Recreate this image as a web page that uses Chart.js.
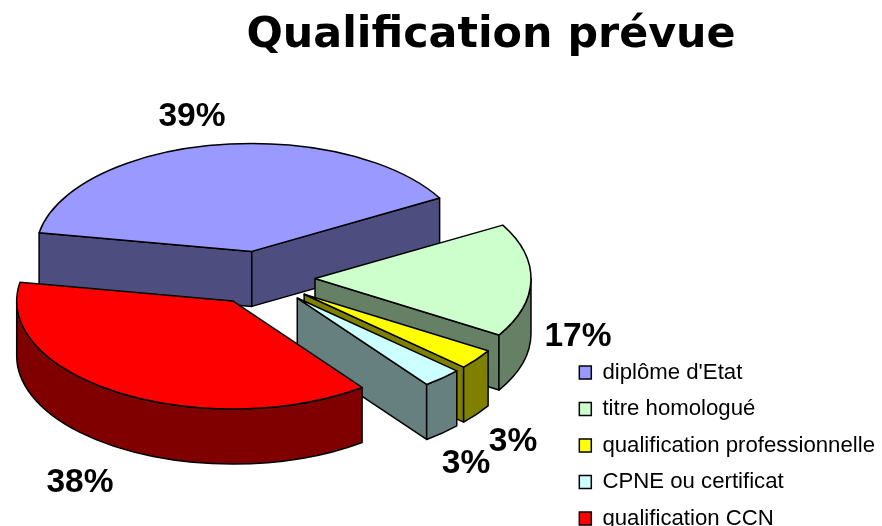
<!DOCTYPE html>
<html>
<head>
<meta charset="utf-8">
<title>Qualification prévue</title>
<script src="https://cdn.jsdelivr.net/npm/chart.js@4/dist/chart.umd.min.js"></script>
<style>
  html, body { margin: 0; padding: 0; background: #fff; }
  canvas { display: block; }
</style>
</head>
<body>
<canvas id="pie" width="882" height="526"></canvas>
<script>
var chartTitle = 'Qualification prévue'
var categories = ['diplôme d\'Etat', 'titre homologué', 'qualification professionnelle', 'CPNE ou certificat', 'qualification CCN']
var shares = [39, 17, 3, 3, 38]
var topColors = ['#9999ff', '#ccffcc', '#ffff00', '#ccffff', '#ff0000']
var wallColors = ['#4d4d80', '#668066', '#808000', '#668080', '#800000']

// 3d look: where the flattened pie sits on the page
var pieX = 261, pieY = 278
var squash = 0.5, depth = 55, explode = 54
// percent labels sit by hand like in the original
var labelSpots = [[192, 117], [578, 337], [513, 442], [466, 464], [80, 483]]

var pie3d = {
    id: 'pie3d',
    beforeDatasetsDraw: function (chart) {
        var ctx = chart.ctx
        var arcs = chart.getDatasetMeta(0).data
        // back to front, every slice covers the ones before it
        arcs.forEach(function (arc, i) {
            var start = arc.startAngle, end = arc.endAngle
            var r = arc.outerRadius
            var mid = (start + end) / 2
            var ox = pieX + Math.cos(mid) * explode
            var oy = pieY + Math.sin(mid) * explode * squash
            var ptX = function (a) { return ox + Math.cos(a) * r }
            var ptY = function (a) { return oy + Math.sin(a) * r * squash }

            ctx.save()
            ctx.lineWidth = 1.5
            ctx.strokeStyle = '#000'
            ctx.lineJoin = 'round'
            ctx.fillStyle = wallColors[i]

            // cut faces, only the ones looking at us
            ;[[start, start - Math.PI / 2], [end, end + Math.PI / 2]].forEach(function (f) {
                if (Math.sin(f[1]) <= 0) return
                ctx.beginPath()
                ctx.moveTo(ox, oy)
                ctx.lineTo(ptX(f[0]), ptY(f[0]))
                ctx.lineTo(ptX(f[0]), ptY(f[0]) + depth)
                ctx.lineTo(ox, oy + depth)
                ctx.closePath()
                ctx.fill()
                ctx.stroke()
            })

            // round wall, front half only
            var a0 = Math.max(start, 0), a1 = Math.min(end, Math.PI)
            if (a1 > a0) {
                ctx.beginPath()
                ctx.ellipse(ox, oy, r, r * squash, 0, a0, a1)
                ctx.lineTo(ptX(a1), ptY(a1) + depth)
                ctx.ellipse(ox, oy + depth, r, r * squash, 0, a1, a0, true)
                ctx.closePath()
                ctx.fill()
                ctx.stroke()
            }
            ctx.restore()

            // top face comes from chart.js itself
            ctx.save()
            ctx.translate(ox, oy)
            ctx.scale(1, squash)
            ctx.translate(-arc.x, -arc.y)
            arc.draw(ctx)
            ctx.restore()

            ctx.save()
            ctx.lineWidth = 1.5
            ctx.strokeStyle = '#000'
            ctx.lineJoin = 'round'
            ctx.beginPath()
            ctx.moveTo(ox, oy)
            ctx.ellipse(ox, oy, r, r * squash, 0, start, end)
            ctx.closePath()
            ctx.stroke()
            ctx.restore()
        })
        return false
    },
    afterDraw: function (chart) {
        var ctx = chart.ctx
        ctx.save()
        ctx.font = 'bold 33.5px "Liberation Sans", Arial, sans-serif'
        ctx.fillStyle = '#000'
        ctx.textAlign = 'center'
        ctx.textBaseline = 'middle'
        shares.forEach(function (v, i) {
            ctx.fillText(v + '%', labelSpots[i][0], labelSpots[i][1])
        })
        ctx.restore()
    }
}

var ctx = document.getElementById('pie').getContext('2d')
var myPie = new Chart(ctx, {
    type: 'pie',
    plugins: [pie3d],
    data: {
        labels: categories,
        datasets: [{
            data: shares,
            backgroundColor: topColors,
            borderWidth: 0
        }]
    },
    options: {
        responsive: false,
        animation: false,
        rotation: -80,
        radius: 216,
        layout: { padding: { left: 97, right: -3, top: 10, bottom: -18 } },
        plugins: {
            tooltip: { enabled: false },
            title: {
                display: true,
                text: chartTitle,
                color: '#000',
                padding: 0,
                font: { family: '"DejaVu Sans", Verdana, sans-serif', size: 42.8, weight: 'bold', lineHeight: 1.2 }
            },
            legend: {
                position: 'right',
                align: 'end',
                labels: {
                    color: '#000',
                    boxWidth: 12,
                    boxHeight: 13,
                    padding: 14.3,
                    font: { family: '"Liberation Sans", Arial, sans-serif', size: 22.2 },
                    generateLabels: function (chart) {
                        var items = Chart.overrides.pie.plugins.legend.labels.generateLabels(chart)
                        items.forEach(function (it) {
                            it.strokeStyle = '#000'
                            it.lineWidth = 1.5
                        })
                        return items
                    }
                }
            }
        }
    }
})
</script>
</body>
</html>
